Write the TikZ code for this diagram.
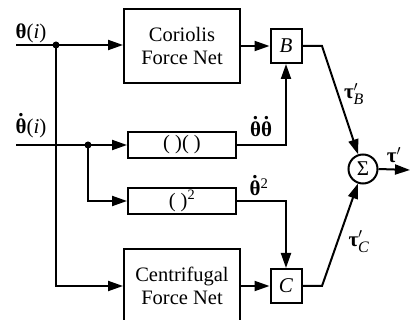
\documentclass[tikz,border=0pt]{standalone}
\usepackage{amsmath}
\usepackage{fontspec}
\setmainfont{Liberation Serif}
\usetikzlibrary{arrows.meta,positioning,calc}
\tikzset{
  arrln/.style={-{Triangle[length=15pt,width=10pt]}, line width=2pt},
  netbox/.style={draw, line width=2pt, minimum width=116, minimum height=74, align=center, font=\fontsize{20.5}{23}\selectfont},
  opbox/.style={draw, line width=2pt, minimum width=108, minimum height=26, inner sep=0pt, font=\fontsize{20.5}{23}\selectfont},
  mulbox/.style={draw, line width=2pt, minimum width=31, minimum height=34, inner sep=0pt, font=\fontsize{21}{23}\selectfont},
  sumnode/.style={draw, circle, line width=2pt, minimum size=29, inner sep=0pt, font=\fontsize{21}{23}\selectfont},
  lbl/.style={inner sep=0pt, font=\fontsize{21}{23}\selectfont},
}
\newcommand{\thb}{\textbf{θ}}
\newcommand{\thdot}{\ooalign{\textbf{θ}\cr\hidewidth\raisebox{0.8em}{\textbf{.}}\hidewidth\cr}}
\newcommand{\taub}{\textbf{τ}}
\newcommand{\subl}[1]{\text{\fontsize{16}{16}\selectfont\textit{#1}}}
\newcommand{\junc}[1]{\fill #1 circle (3.5);}

\begin{document}
\begin{tikzpicture}[x=1pt, y=-1pt]
    \useasboundingbox (0,0) rectangle (410,320);
    \clip (0,0) rectangle (410,320);
    % blocks
    \node[netbox] (cor) at (182,46) {Coriolis\\Force Net};
    \node[netbox] (cen) at (182,286) {Centrifugal\\Force Net};
    \node[opbox] (prod) at (182,145) {( )( )};
    \node[opbox] (sq) at (182,201) {( )\textsuperscript{2}};
    \node[mulbox] (B) at (286,46) {\textit{B}};
    \node[mulbox] (C) at (286,286) {\textit{C}};
    \node[sumnode] (sum) at (363,169) {Σ};
    % inputs and bends
    \coordinate (inth) at (16,45);
    \coordinate (inthd) at (16,145);
    \coordinate (j1) at (56,45);
    \coordinate (j2) at (88,145);
    \coordinate (kB) at (322,46);
    \coordinate (kC) at (322,286);
    \coordinate (out) at (410,170);
    % theta
    \draw[arrln] (inth) -- (inth -| cor.west);
    \draw[arrln] (j1) |- (cen.west);
    \junc{(j1)}
    % theta dot
    \draw[arrln] (inthd) -- (prod.west);
    \draw[arrln] (j2) |- (sq.west);
    \junc{(j2)}
    % products
    \draw[arrln] (cor) -- (B);
    \draw[arrln] (cen) -- (C);
    \draw[arrln] (prod.east) -| (B.south);
    \draw[arrln] (sq.east) -| (C.north);
    % sum
    \draw[arrln] (B.east) -- (kB) -- (sum);
    \draw[arrln] (C.east) -- (kC) -- (sum);
    \draw[arrln] (sum.east) -- (out);
    % labels
    \node[lbl] (lth) at (31,33) {\thb(\textit{i})};
    \node[lbl] (lthd) at (31,128) {\thdot(\textit{i})};
    \node[lbl] (lprod) at (261,129) {\thdot\thdot};
    \node[lbl] (lsq) at (259,187) {\thdot\textsuperscript{2}};
    \node[lbl] (ltB) at (354,94) {\taub$'_{\subl{B}}$};
    \node[lbl] (ltC) at (359,242) {\taub$'_{\subl{C}}$};
    \node[lbl] (lt) at (394,155) {\taub$'$};
\end{tikzpicture}
\end{document}
